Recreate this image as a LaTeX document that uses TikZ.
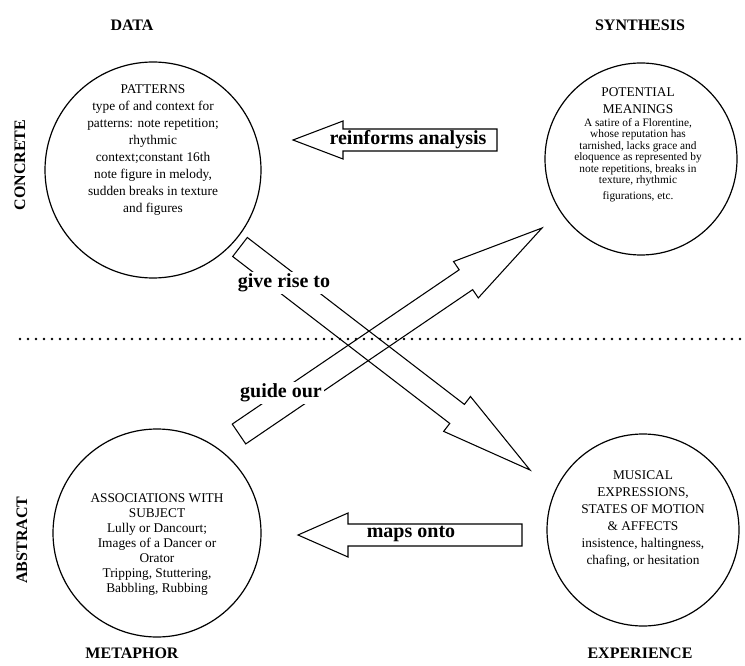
\documentclass[tikz,border=0pt]{standalone}
\usepackage{fontspec}
\setmainfont{Liberation Serif}
\usetikzlibrary{calc,positioning}

% fat arrow: tail, tip, half shaft, half head, head length
\newcommand{\fatarrow}[5]{%
  \coordinate (hb) at ($(#2)!#5!(#1)$);
  \draw[blockarrow] ($(#1)!#3!90:(#2)$) -- ($(hb)!#3!-90:(#1)$) -- ($(hb)!#4!-90:(#1)$) -- (#2)
    -- ($(hb)!#4!90:(#1)$) -- ($(hb)!#3!90:(#1)$) -- ($(#1)!#3!-90:(#2)$) -- cycle;}

\begin{document}
\begin{tikzpicture}[x=0.75pt,y=-0.75pt,
  bubble/.style={circle,draw,line width=0.9pt,inner sep=0pt},
  heading/.style={font=\fontsize{12}{14}\selectfont\bfseries},
  body/.style={align=center,font=\fontsize{10}{12.75}\selectfont},
  tag/.style={font=\fontsize{15}{17}\selectfont\bfseries,inner sep=1.5pt},
  blockarrow/.style={line width=0.8pt,line join=miter}]
\useasboundingbox (0,0) rectangle (745,666);

% corner headings
\node[heading] (data) at (132,25) {DATA};
\node[heading] (synth) at (640,25) {SYNTHESIS};
\node[heading] (metaphor) at (132,653) {METAPHOR};
\node[heading] (exper) at (640,653) {EXPERIENCE};
\node[heading,rotate=90] (concrete) at (20,165) {CONCRETE};
\node[heading,rotate=90] (abstract) at (22,540) {ABSTRACT};

% the four circles
\node[bubble,minimum size=162pt] (patterns) at (153,170) {};
\node[bubble,minimum size=144pt] (meanings) at (641,159) {};
\node[bubble,minimum size=156pt] (assoc) at (157,533) {};
\node[bubble,minimum size=144pt] (express) at (643,530) {};

\node[body] (patternstxt) at (153,150) {PATTERNS\\type of and context for\\patterns: note repetition;\\rhythmic\\context;constant 16th\\note figure in melody,\\sudden breaks in texture\\and figures};
\node[body] (meaningshead) at (638,101) {POTENTIAL\\MEANINGS};
\node[body,font=\fontsize{8.5}{8.6}\selectfont] (meaningstxt) at (638,160) {A satire of a Florentine,\\whose reputation has\\tarnished, lacks grace and\\eloquence as represented by\\note repetitions, breaks in\\texture, rhythmic\\[3pt]figurations, etc.};
\node[body,font=\fontsize{10}{11.25}\selectfont] (assoctxt) at (157,545) {ASSOCIATIONS WITH\\SUBJECT\\Lully or Dancourt;\\Images of a Dancer or\\Orator\\Tripping, Stuttering,\\Babbling, Rubbing};
\node[body] (expresstxt) at (643,519) {MUSICAL\\EXPRESSIONS,\\STATES OF MOTION\\\& AFFECTS\\insistence, haltingness,\\chafing, or hesitation};

% divider between concrete and abstract
\coordinate (divl) at (20,339);
\coordinate (divr) at (745,339);
\draw[line width=2pt,line cap=round,dash pattern=on 0pt off 6pt] (divl) -- (divr);

% block arrows
\coordinate (reinTail) at (497,140);
\coordinate (reinTip) at (293,140);
\coordinate (mapsTail) at (522,535);
\coordinate (mapsTip) at (298,535);
\coordinate (riseTail) at (240,247);
\coordinate (riseTip) at (530,470);
\coordinate (guideTail) at (239,434);
\coordinate (guideTip) at (542,228);

\fatarrow{reinTail}{reinTip}{8.25pt}{14.25pt}{37.5pt}
\fatarrow{mapsTail}{mapsTip}{8.25pt}{16.5pt}{37.5pt}
\fatarrow{riseTail}{riseTip}{9pt}{16.5pt}{69pt}
\fatarrow{guideTail}{guideTip}{9pt}{16.5pt}{69pt}

\node[tag] (rein) at (408,140) {reinforms analysis};
\node[tag] (maps) at (411,534) {maps onto};
\node[tag,fill=white] (rise) at (284,283) {give rise to};
\node[tag,fill=white] (guide) at (281,393) {guide our};
\end{tikzpicture}
\end{document}
